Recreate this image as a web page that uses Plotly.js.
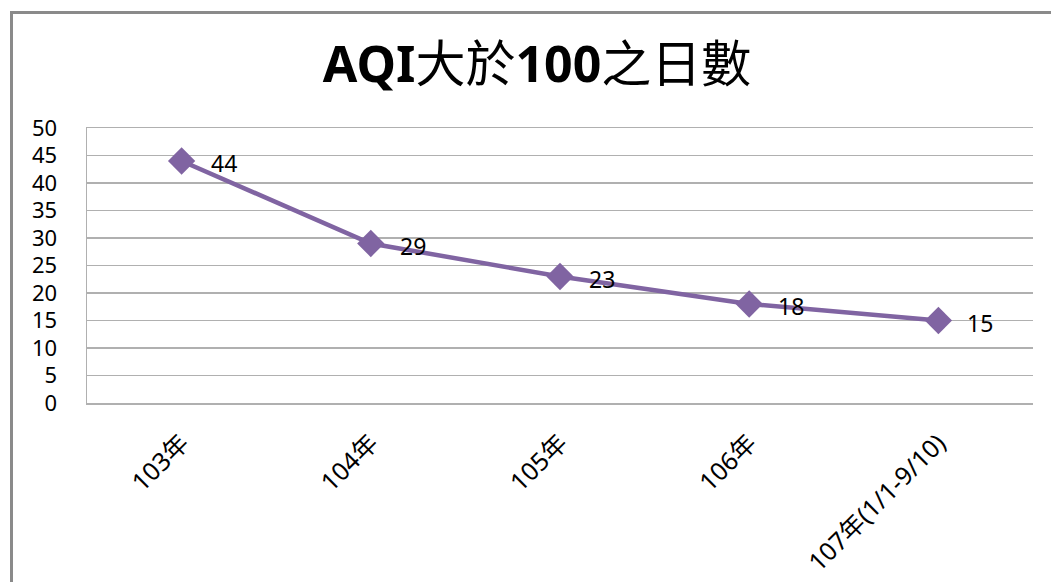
<!DOCTYPE html>
<html>
<head>
<meta charset="utf-8">
<script src="https://cdn.plot.ly/plotly-3.0.1.min.js"></script>
<style>
body { margin: 0; background: #fff; }
#chart { width: 1051px; height: 582px; }
#frame {
	position: absolute; left: 10px; top: 11px; width: 1100px; height: 700px;
	border-left: 3px solid #8a8a8a; border-top: 3px solid #8a8a8a;
	pointer-events: none;
}
</style>
</head>
<body>
<div id="chart"></div>
<div id="frame"></div>
<script>
var years = ['103年', '104年', '105年', '106年', '107年(1/1-9/10)'];
var days = [44, 29, 23, 18, 15];
var yTicks = [0, 5, 10, 15, 20, 25, 30, 35, 40, 45, 50];

var FONT = 'Noto Sans, Noto Sans CJK TC, sans-serif';

var AQI = {
	x: years,
	y: days,
	type: 'scatter',
	mode: 'lines+markers',
	line: { color: '#8064a2', width: 4.5 },
	marker: { symbol: 'diamond', size: 21, color: '#8064a2' },
	hoverinfo: 'x+y'
};

var labels = days.map(function (v, i) {
	return {
		x: years[i], y: v, text: String(v),
		showarrow: false, xanchor: 'left', yanchor: 'middle',
		xshift: 27, yshift: -2,
		font: { family: FONT, size: 23, color: '#000' }
	};
});

var layout = {
	width: 1051,
	height: 582,
	margin: { l: 87, r: 18, t: 128, b: 179 },
	paper_bgcolor: '#fff',
	plot_bgcolor: '#fff',
	showlegend: false,
	font: { family: FONT, color: '#000' },
	title: {
		text: '<b>AQI</b>大於<b>100</b>之日數',
		font: { family: FONT, size: 50, color: '#000' },
		x: 0.511, xref: 'container', xanchor: 'center',
		y: 0.89, yref: 'container', yanchor: 'middle'
	},
	xaxis: {
		type: 'category',
		range: [-0.5, 4.5],
		showgrid: false,
		showline: true,
		mirror: true,
		linecolor: '#b0b0b0',
		linewidth: 1.5,
		zeroline: false,
		tickangle: -45,
		ticks: '',
		ticklabelstandoff: 14,
		tickfont: { family: FONT, size: 25, color: '#000' }
	},
	yaxis: {
		range: [0, 50],
		tickvals: yTicks,
		showgrid: true,
		gridcolor: '#b0b0b0',
		gridwidth: 1.5,
		showline: true,
		linecolor: '#b0b0b0',
		linewidth: 1.5,
		zeroline: false,
		ticks: '',
		ticklabelstandoff: 24,
		tickfont: { family: FONT, size: 22, color: '#000' }
	},
	annotations: labels
};

Plotly.newPlot('chart', [AQI], layout, { displayModeBar: false, staticPlot: true });
</script>
</body>
</html>
